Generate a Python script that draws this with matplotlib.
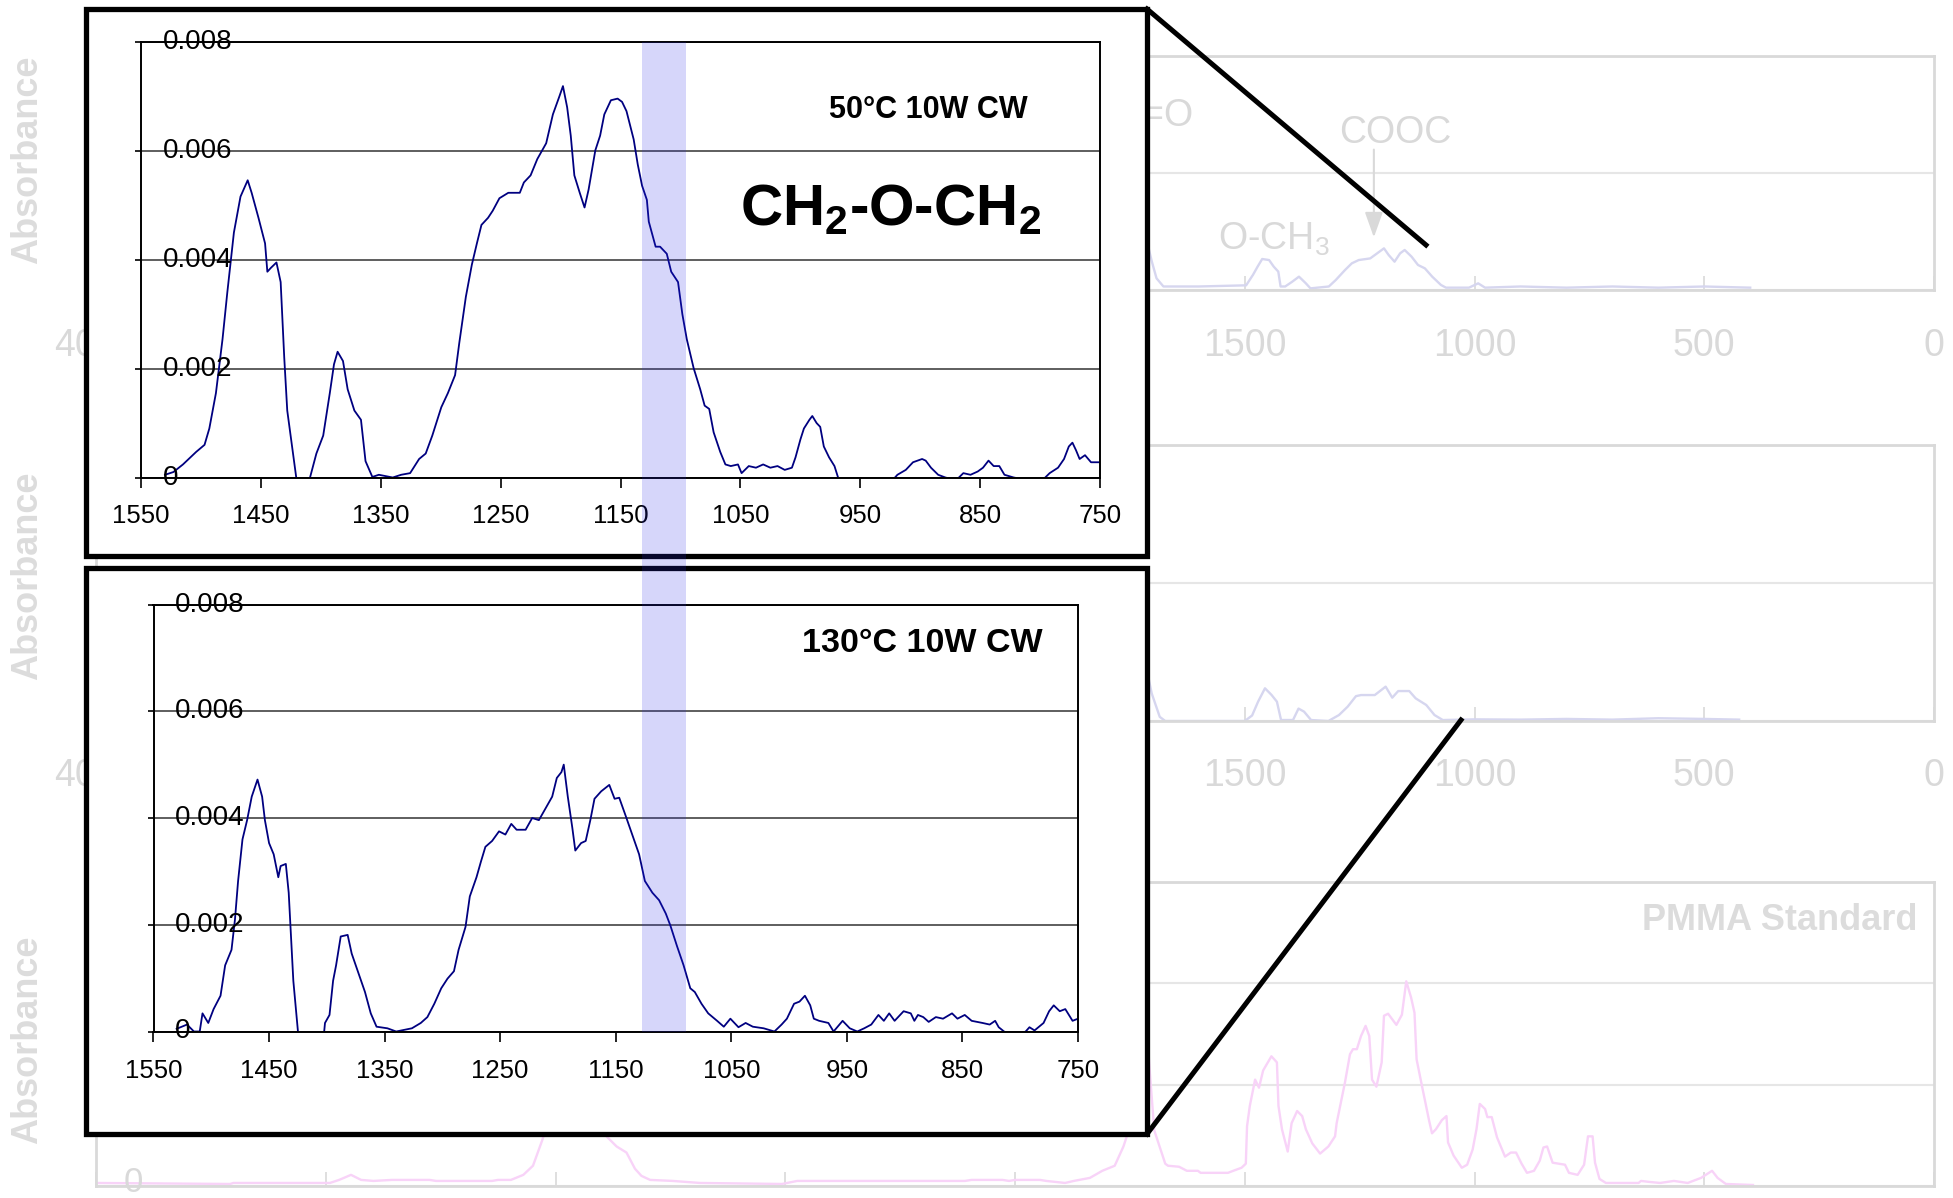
import numpy as np
import matplotlib
matplotlib.use("Agg")
import matplotlib.pyplot as plt
import matplotlib.patches as patches
import matplotlib.transforms as mtransforms
from matplotlib.lines import Line2D

plt.rcParams['font.family'] = ['Liberation Sans', 'DejaVu Sans']
plt.rcParams['mathtext.fontset'] = 'custom'
plt.rcParams['mathtext.rm'] = 'Liberation Sans'
plt.rcParams['mathtext.it'] = 'Liberation Sans'
plt.rcParams['mathtext.bf'] = 'Liberation Sans:bold'

NARROW = ['Liberation Sans Narrow', 'Liberation Sans', 'DejaVu Sans']

# ---- inset spectra (absorbance vs wavenumber, cm-1) ----
top_wn = [1530, 1523, 1515, 1504, 1497, 1493, 1487.5, 1482, 1478, 1472.5, 1467, 1461, 1457.7, 1452,
          1446.5, 1444.6, 1441.7, 1437, 1433.5, 1430.5, 1428, 1420.5, 1416, 1412, 1409, 1403.7, 1398,
          1392.5, 1389, 1386, 1381.5, 1377.6, 1372, 1366.5, 1362.7, 1357, 1351.6, 1340, 1333, 1325.5,
          1318, 1312.5, 1307, 1299.5, 1294, 1288, 1284.5, 1279, 1274, 1269.7, 1266, 1260.5, 1256.6,
          1251, 1243.6, 1234, 1230.6, 1225, 1219.4, 1212, 1206.4, 1201, 1198, 1194.5, 1191.5, 1188.5,
          1184, 1180, 1176.6, 1171, 1167, 1163.5, 1158, 1152.4, 1148.7, 1145, 1139, 1135.6, 1132, 1128,
          1126.4, 1120.7, 1117, 1111.4, 1107.7, 1102, 1098.4, 1094.7, 1089, 1083.5, 1079.8, 1076,
          1072.3, 1066.8, 1062.5, 1058, 1052, 1049, 1043, 1037, 1031, 1025, 1019, 1013, 1007, 1004,
          999.9, 997, 992.4, 990, 986.4, 983.4, 980.4, 976, 971.5, 968.5, 960, 930, 921, 919, 912, 906,
          898.4, 895.4, 891, 885, 879, 870, 864, 858, 852, 847.6, 843, 838.7, 834, 829.7, 822, 810,
          798, 792, 785, 780, 776, 773, 770, 767, 762.5, 757.5, 750]
top_ab = [0.00005, 0.0001, 0.00024, 0.00047, 0.0006, 0.0009, 0.00155, 0.00254, 0.0034, 0.0045, 0.00516,
          0.00546, 0.00523, 0.00477, 0.0043, 0.00378, 0.00385, 0.00395, 0.00359, 0.0022, 0.00123, 0,
          -0.0004, -0.0004, 0, 0.00044, 0.00077, 0.00155, 0.00208, 0.00231, 0.00214, 0.00162, 0.00123,
          0.00106, 0.0003, 0.00001, 0.00005, 0, 0.00005, 0.00008, 0.00034, 0.00044, 0.00077, 0.00129,
          0.00155, 0.00188, 0.00247, 0.00332, 0.00391, 0.00431, 0.00464, 0.00477, 0.0049, 0.00513,
          0.00523, 0.00523, 0.00542, 0.00555, 0.00585, 0.00614, 0.00667, 0.007, 0.00719, 0.0068,
          0.00628, 0.00555, 0.00523, 0.00496, 0.00529, 0.00601, 0.00628, 0.00667, 0.00693, 0.00696,
          0.0069, 0.00673, 0.00621, 0.00575, 0.00536, 0.0051, 0.0047, 0.00424, 0.00424, 0.00411,
          0.00378, 0.00359, 0.003, 0.00254, 0.00201, 0.00162, 0.00132, 0.00126, 0.00083, 0.00047,
          0.00024, 0.00021, 0.00024, 0.00008, 0.00021, 0.00018, 0.00024, 0.00018, 0.00021, 0.00014,
          0.00018, 0.00037, 0.0007, 0.0009, 0.00106, 0.00113, 0.001, 0.00093, 0.00057, 0.00037,
          0.00021, 0, -0.0001, -0.0001, 0, 0.00005, 0.00014, 0.00028, 0.00034, 0.00031, 0.00018,
          0.00005, 0, -0.00005, 0.00008, 0.00005, 0.00011, 0.00018, 0.00031, 0.00021, 0.00021,
          0.00005, 0, -0.00005, -0.00005, 0.00008, 0.00018, 0.00034, 0.00057, 0.00064, 0.0005,
          0.00034, 0.00041, 0.00028, 0.00028]

bot_wn = [1530, 1521, 1515, 1510, 1507.6, 1502.6, 1498, 1492, 1488, 1482.5, 1479.5, 1476.8, 1473, 1469,
          1465, 1460, 1456, 1453.6, 1450, 1446, 1442, 1440, 1435.5, 1433, 1431.6, 1429, 1425, 1418,
          1408, 1402.3, 1401.6, 1397.7, 1394.6, 1392, 1388, 1382, 1378.5, 1372.7, 1367, 1362, 1357,
          1347.6, 1340, 1326.4, 1318.7, 1313, 1307, 1301, 1295.6, 1290, 1286, 1280, 1276.3, 1270.5,
          1266.7, 1262.8, 1257, 1251, 1245.5, 1240.4, 1235.8, 1228, 1222.3, 1216.5, 1210.8, 1205,
          1201, 1197, 1195, 1191.5, 1187.6, 1185, 1180, 1176, 1172, 1168.4, 1162.6, 1155.6, 1151,
          1147, 1141.4, 1135.6, 1129.8, 1124.8, 1118.3, 1112.5, 1106.7, 1102.8, 1097, 1091.3, 1085.5,
          1081.6, 1075.8, 1070, 1062.3, 1056.5, 1050.8, 1043.8, 1037.6, 1031.4, 1022, 1012.7, 1006.5,
          1001.9, 995.7, 991, 986.3, 981.7, 978.6, 974, 966, 961.5, 953.7, 947.5, 941, 935, 928.9,
          922.7, 918, 913.4, 908.7, 900.9, 894.7, 891.6, 888.5, 883.9, 879.2, 873, 866.8, 859, 854.3,
          848, 842, 832.6, 826.4, 821.7, 818.6, 814, 805, 795.3, 792, 787.6, 779.8, 775, 771, 765.8,
          761, 754.7, 750]
bot_ab = [0.00005, 0.00013, 0, 0, 0.00034, 0.00016, 0.00042, 0.00067, 0.00124, 0.00153, 0.0021, 0.00282,
          0.0036, 0.00396, 0.0044, 0.00472, 0.0044, 0.00396, 0.00353, 0.00332, 0.00289, 0.0031,
          0.00314, 0.0026, 0.00203, 0.00095, 0, -0.0004, -0.0004, 0, 0.00016, 0.00031, 0.00095,
          0.00124, 0.00178, 0.00181, 0.00146, 0.0011, 0.00074, 0.00034, 0.00009, 0.00006, 0, 0.00006,
          0.00016, 0.00027, 0.00052, 0.00081, 0.00099, 0.00113, 0.00153, 0.00196, 0.00253, 0.00289,
          0.00318, 0.00346, 0.00357, 0.00375, 0.00369, 0.00389, 0.00378, 0.00378, 0.004, 0.00396,
          0.00418, 0.0044, 0.00475, 0.00486, 0.005, 0.0044, 0.00382, 0.00339, 0.00353, 0.00357,
          0.00396, 0.00436, 0.0045, 0.00462, 0.00436, 0.00438, 0.00404, 0.00368, 0.00332, 0.00282,
          0.0026, 0.00246, 0.00221, 0.00199, 0.0016, 0.00124, 0.00081, 0.00074, 0.00052, 0.00034,
          0.0002, 0.00009, 0.00024, 0.00008, 0.00016, 0.00009, 0.00006, 0, 0.00013, 0.00024, 0.00052,
          0.00056, 0.00067, 0.00049, 0.00024, 0.0002, 0.00016, 0, 0.0002, 0.00006, 0, 0.00006,
          0.00013, 0.00031, 0.0002, 0.00034, 0.0002, 0.00038, 0.00034, 0.0002, 0.00031, 0.00027,
          0.00018, 0.00027, 0.00024, 0.00034, 0.00024, 0.00031, 0.0002, 0.00016, 0.00013, 0.0002,
          0.00008, 0, -0.0001, 0, 0.00008, 0.00002, 0.00016, 0.00038, 0.00049, 0.00038, 0.00042,
          0.0002, 0.00024]

inset_xticks = [1550, 1450, 1350, 1250, 1150, 1050, 950, 850, 750]
inset_yticks = [0, 0.002, 0.004, 0.006, 0.008]
inset_ylabels = ['0', '0.002', '0.004', '0.006', '0.008']
band_wn = (1132, 1095)

# ---- faded full-range spectra in the background ----
p1_wn = [1715, 1702, 1692, 1677, 1600, 1497, 1482, 1472, 1462, 1447, 1437, 1427, 1422, 1412, 1397,
         1382, 1367, 1357, 1317, 1302, 1282, 1267, 1252, 1227, 1212, 1197, 1187, 1174, 1162, 1152,
         1137, 1123, 1108, 1092, 1073, 1062, 1012, 992, 977, 900, 800, 700, 600, 500, 400]
p1_val = [0.45, 0.24, 0.1, 0.03, 0.03, 0.04, 0.13, 0.2, 0.265, 0.256, 0.2, 0.157, 0.03, 0.03, 0.07,
          0.114, 0.057, 0.014, 0.03, 0.085, 0.17, 0.228, 0.256, 0.27, 0.313, 0.356, 0.3, 0.242, 0.313,
          0.342, 0.285, 0.214, 0.185, 0.114, 0.043, 0.02, 0.02, 0.057, 0.02, 0.03, 0.02, 0.03, 0.02,
          0.03, 0.02]

p2_wn = [1715, 1702.5, 1685, 1673, 1500, 1484, 1471, 1456, 1442, 1430, 1421, 1395, 1383, 1371, 1355.6,
         1318, 1295, 1276, 1258, 1247, 1217, 1193.4, 1179, 1166, 1142, 1128, 1105, 1087, 1069, 999,
         900, 800, 700, 600, 500, 424]
p2_val = [0.4, 0.2, 0.03, 0.0, 0.0, 0.04, 0.14, 0.237, 0.19, 0.14, 0.007, 0.007, 0.09, 0.068, 0.007,
          0.0, 0.043, 0.104, 0.18, 0.188, 0.188, 0.249, 0.169, 0.217, 0.217, 0.164, 0.116, 0.043,
          0.007, 0.012, 0.01, 0.015, 0.01, 0.02, 0.015, 0.01]

p3_wn = [4000, 3708, 3701, 3491, 3471, 3445, 3423, 3396, 3356, 3274, 3260, 3138, 3125, 3097, 3070, 3049,
         3029, 2950, 2889, 2867, 2845.5, 2827, 2813, 2794, 2745, 2685.5, 2507, 2474, 2109, 2094.6,
         2027, 2013, 2000, 1945.6, 1932, 1891, 1872, 1837, 1810, 1783, 1764, 1756, 1730, 1708, 1697,
         1673, 1667, 1643, 1626, 1602, 1596, 1536.5, 1525, 1507, 1497.7, 1495, 1489, 1477.5, 1469,
         1460, 1442, 1430, 1426.6, 1419, 1406.5, 1398, 1386, 1375, 1367, 1353, 1336, 1318, 1303.5,
         1300, 1288, 1282, 1271, 1264.5, 1256, 1247, 1237, 1229, 1223, 1213.5, 1202, 1197, 1188,
         1170, 1158, 1148.5, 1138, 1130.6, 1126, 1114, 1099, 1092.5, 1084, 1071, 1061, 1057.6,
         1045.5, 1027.6, 1016, 1004, 995.7, 988.5, 977, 972, 962.5, 951, 933.6, 921, 909.6, 897.5,
         885.8, 870.5, 858, 850, 842, 830, 803, 794.5, 775.5, 761.5, 753, 743, 737.7, 728, 714, 643,
         637.6, 619, 596, 566, 536, 507, 483, 471, 453, 394]
p3_val = [0.03, 0.02, 0.03, 0.03, 0.06, 0.11, 0.06, 0.05, 0.06, 0.06, 0.05, 0.05, 0.06, 0.06, 0.11, 0.2,
          0.45, 1.6, 0.49, 0.39, 0.33, 0.17, 0.1, 0.06, 0.05, 0.03, 0.02, 0.05, 0.05, 0.06, 0.06, 0.05,
          0.06, 0.06, 0.05, 0.03, 0.05, 0.08, 0.15, 0.2, 0.39, 0.5, 2.9, 1.21, 0.55, 0.22, 0.2, 0.19,
          0.15, 0.15, 0.13, 0.13, 0.15, 0.18, 0.22, 0.59, 0.79, 1.05, 0.97, 1.14, 1.28, 1.22, 0.79,
          0.56, 0.34, 0.62, 0.74, 0.69, 0.56, 0.42, 0.32, 0.39, 0.49, 0.62, 0.89, 1.02, 1.30, 1.35,
          1.35, 1.48, 1.58, 1.48, 1.05, 0.98, 1.22, 1.68, 1.70, 1.59, 1.69, 2.02, 1.86, 1.71, 1.25,
          0.98, 0.65, 0.52, 0.56, 0.65, 0.69, 0.43, 0.30, 0.18, 0.21, 0.36, 0.56, 0.81, 0.76, 0.68,
          0.68, 0.48, 0.29, 0.33, 0.33, 0.22, 0.13, 0.15, 0.25, 0.38, 0.39, 0.23, 0.21, 0.13, 0.11,
          0.21, 0.49, 0.49, 0.23, 0.07, 0.03, 0.03, 0.05, 0.04, 0.03, 0.05, 0.03, 0.08, 0.15, 0.08,
          0.02, 0.01]

bg_xticks = [4000, 3500, 3000, 2500, 2000, 1500, 1000, 500, 0]

W, H = 1953, 1198
FAINT = '#d9d9d9'


def fx(px):
    return px / W


def fy(py):
    return 1 - py / H


def rect(l, t, r, b):
    return [l / W, 1 - b / H, (r - l) / W, (b - t) / H]


fig = plt.figure(figsize=(W / 100, H / 100), dpi=100)


def background_panel(top, bottom, nrows, wn, val, color, labels=True):
    ax = fig.add_axes(rect(96, top, 1934, bottom), zorder=0)
    ax.plot(wn, val, color=color, lw=1.7)
    ax.set_xlim(4000, 0)
    ax.set_ylim(0, nrows)
    ax.set_xticks(bg_xticks)
    ax.set_xticklabels([str(t) for t in bg_xticks] if labels else [])
    ax.set_yticks(range(nrows + 1))
    ax.set_yticklabels([])
    ax.grid(axis='y', color='#e6e6e6', lw=1.5)
    ax.tick_params(axis='x', direction='in', length=10, width=1.2, color=FAINT,
                   labelcolor=FAINT, labelsize=27, pad=27)
    ax.tick_params(axis='y', length=0)
    for lbl in ax.get_xticklabels():
        lbl.set_family(NARROW)
    for s in ax.spines.values():
        s.set_color(FAINT)
        s.set_linewidth(2)
    return ax


bg1 = background_panel(56, 290, 2, p1_wn, p1_val, '#d6d6ef')
bg2 = background_panel(445, 721, 2, p2_wn, p2_val, '#d6d6ef')
bg3 = background_panel(882, 1186, 3, p3_wn, p3_val, '#f8d3f8', labels=False)

# faded annotations of the background panels
bg1.text(1613, 1.49, 'C=O', ha='right', va='center', color=FAINT, fontsize=27, family=NARROW)
bg1.text(1173, 1.34, 'COOC', ha='center', va='center', color=FAINT, fontsize=27, family=NARROW)
bg1.text(1436, 0.43, 'O-CH$_3$', ha='center', va='center', color=FAINT, fontsize=27, family=NARROW)
bg1.annotate('', xy=(1219, 0.45), xytext=(1219, 1.2),
             arrowprops=dict(arrowstyle='-|>,head_length=0.7,head_width=0.25', color=FAINT,
                             lw=1.5, mutation_scale=22, shrinkA=0, shrinkB=0))
bg3.text(0.991, 0.872, 'PMMA Standard', transform=bg3.transAxes, ha='right', va='center',
         color='#dcdcdc', fontsize=26, fontweight='bold', family=NARROW)
for yc in (160, 576, 1040):
    fig.text(fx(28), fy(yc), 'Absorbance', rotation=90, ha='center', va='center',
             color='#dcdcdc', fontsize=26, fontweight='bold', family=NARROW)
fig.text(fx(133), fy(1182), '0', ha='center', va='center', color=FAINT, fontsize=25, family=NARROW)


def inset(frame, box, wn, ab, pad, lab_dx):
    l, t, r, b = frame
    fig.add_artist(patches.Rectangle((fx(l), fy(b)), (r - l) / W, (b - t) / H,
                                     transform=fig.transFigure, facecolor='white',
                                     edgecolor='black', lw=3.8, zorder=2))
    ax = fig.add_axes(rect(*box), zorder=3)
    ax.set_facecolor('none')
    ax.plot(wn, ab, color='#000080', lw=1.3)
    ax.set_xlim(1550, 750)
    ax.set_ylim(0, 0.008)
    ax.set_xticks(inset_xticks)
    ax.set_xticklabels([str(t) for t in inset_xticks])
    ax.set_yticks(inset_yticks)
    ax.set_yticklabels([])
    ax.grid(axis='y', color='#333333', lw=1.1)
    ax.tick_params(axis='x', direction='out', length=7, width=1.2, labelsize=18.5, pad=pad)
    ax.tick_params(axis='y', direction='out', length=4, width=1.2)
    for s in ax.spines.values():
        s.set_color('black')
        s.set_linewidth(1.4)
    # value labels sit inside the plot area, left-aligned, as in the original
    tr = mtransforms.offset_copy(ax.get_yaxis_transform(), fig=fig, x=lab_dx, y=0, units='dots')
    for v, s in zip(inset_yticks, inset_ylabels):
        ax.text(0, v, s, transform=tr, ha='left', va='center', fontsize=20, zorder=5)
    return ax


ax_top = inset((86, 9, 1147, 556), (141, 42, 1100, 477.5), top_wn, top_ab, 12, 22)
ax_bot = inset((86, 568, 1147, 1134), (153.5, 604.5, 1078, 1031.5), bot_wn, bot_ab, 13, 21)

fig.text(fx(928), fy(110), '50°C 10W CW', ha='center', va='center', fontsize=22,
         fontweight='bold', zorder=6)
fig.text(fx(891), fy(225), r'CH$_\mathbf{2}$-O-CH$_\mathbf{2}$', ha='center', va='baseline',
         fontsize=42, fontweight='bold', zorder=6)
fig.text(fx(922), fy(644), '130°C 10W CW', ha='center', va='center', fontsize=24.5,
         fontweight='bold', zorder=6)

# highlighted band across both insets
band_tr = mtransforms.blended_transform_factory(ax_top.transData, fig.transFigure)
fig.add_artist(patches.Rectangle((band_wn[0], fy(1031.5)), band_wn[1] - band_wn[0],
                                 fy(42) - fy(1031.5), transform=band_tr,
                                 facecolor='#2828e6', alpha=0.19, lw=0, zorder=4))

# zoom connector lines
fig.add_artist(Line2D([fx(1147), fx(1426)], [fy(9), fy(245)], transform=fig.transFigure,
                      color='black', lw=3.6, zorder=5))
fig.add_artist(Line2D([fx(1147), fx(1461)], [fy(1134), fy(720)], transform=fig.transFigure,
                      color='black', lw=3.6, zorder=5))

fig.savefig('out.png', dpi=100)
